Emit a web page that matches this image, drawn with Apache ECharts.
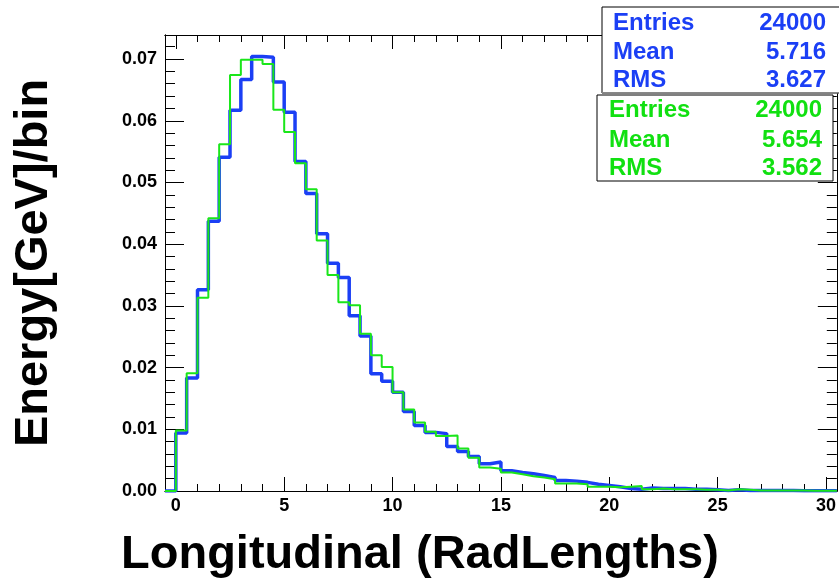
<html>
  <head>
    <meta charset="utf-8" />
    <title>Longitudinal profile</title>
    <script src="https://cdn.jsdelivr.net/npm/echarts@6/dist/echarts.min.js"></script>
  </head>
  <body style="margin:0">
    <div id="main" style="width:839px;height:584px;"></div>
    <script type="text/javascript">
      // histogram: bins of 0.5 RadLengths starting at 0
      var binStart = 0;
      var binWidth = 0.5;
      var blueValues = [
        0.0094, 0.0183, 0.0326, 0.0437, 0.0541, 0.0617, 0.0667, 0.0704, 0.0703, 0.0663,
        0.0614, 0.0534, 0.0482, 0.0417, 0.0369, 0.0346, 0.0284, 0.0251, 0.0190, 0.0178,
        0.0160, 0.0129, 0.0106, 0.0095, 0.0093, 0.0072, 0.0064, 0.0056, 0.0044, 0.0047,
        0.0033, 0.0030, 0.0028, 0.0025, 0.0022, 0.0017, 0.0016, 0.0014, 0.0011, 0.0009,
        0.0007, 0.0004, 0.0003, 0.0005, 0.0004, 0.0004, 0.0004, 0.0003, 0.0003, 0.0002,
        0.0001, 0.0002, 0.0001, 0.0001, 0.0001, 0.0001, 0.0001, 0.00005, 0.00005, 0.00005,
        0.00005
      ];
      var greenValues = [
        0.0098, 0.0191, 0.0313, 0.0442, 0.0562, 0.0674, 0.0699, 0.0699, 0.0692, 0.0618,
        0.0582, 0.0531, 0.0489, 0.0406, 0.0350, 0.0306, 0.0301, 0.0255, 0.0220, 0.0201,
        0.0160, 0.0132, 0.0111, 0.0096, 0.0089, 0.0090, 0.0069, 0.0054, 0.0038, 0.0036,
        0.0030, 0.0027, 0.0024, 0.0022, 0.0019, 0.0012, 0.0012, 0.0011, 0.0007, 0.0007,
        0.0006, 0.0007, 0.0008, 0.0003, 0.0004, 0.0003, 0.0003, 0.0003, 0.0002, 0.0002,
        0.0001, 0.0003, 0.0002, 0.0001, 0.0001, 0.0001, 0.0001, 0.0001, 0.00005, 0.00005,
        0.00005
      ];
      var xMajor = [0, 5, 10, 15, 20, 25, 30];
      var yMajor = [0, 0.01, 0.02, 0.03, 0.04, 0.05, 0.06, 0.07];
      var blueStats = [['Entries', '24000'], ['Mean', '5.716'], ['RMS', '3.627']];
      var greenStats = [['Entries', '24000'], ['Mean', '5.654'], ['RMS', '3.562']];

      var xMin = -0.5, xMax = 30.5, yMin = 0, yMax = 0.0739;
      var blue = '#1b3ff5', green = '#1ae61a';
      var fontFam = '"Liberation Sans", Arial, sans-serif';

      // minor ticks: every 1 on x, every 0.002 on y
      var xMinor = [];
      for (var i = 1; i < 30; i++) { if (i % 5 !== 0) xMinor.push(i); }
      var yMinor = [];
      for (var j = 1; j <= 36; j++) { if (j % 5 !== 0) yMinor.push(+(j * 0.002).toFixed(3)); }

      function stepPoints(values) {
        var pts = [[xMin, 0], [binStart, 0]];
        values.forEach(function (v, k) {
          var lo = binStart + k * binWidth;
          pts.push([lo, v], [lo + binWidth, v]);
        });
        return pts;
      }

      function xAx(pos, ticks, len, labels) {
        return {
          type: 'value', position: pos, min: xMin, max: xMax,
          axisLine: { show: true, onZero: false, lineStyle: { color: '#000', width: 1 } },
          axisTick: { show: true, inside: true, length: len, customValues: ticks, lineStyle: { color: '#000' } },
          axisLabel: labels ? {
            show: true, customValues: ticks, margin: 6, color: '#000',
            fontSize: 18, fontWeight: 'bold', fontFamily: fontFam
          } : { show: false },
          splitLine: { show: false }
        };
      }
      function yAx(pos, ticks, len, labels) {
        return {
          type: 'value', position: pos, min: yMin, max: yMax,
          axisLine: { show: true, onZero: false, lineStyle: { color: '#000', width: 1 } },
          axisTick: { show: true, inside: true, length: len, customValues: ticks, lineStyle: { color: '#000' } },
          axisLabel: labels ? {
            show: true, customValues: ticks, margin: 8, color: '#000',
            fontSize: 18, fontWeight: 'bold', fontFamily: fontFam,
            formatter: function (v) { return v.toFixed(2); }
          } : { show: false },
          splitLine: { show: false }
        };
      }

      var graphics = [
        { type: 'rect', z: 100, shape: { x: 602, y: 7, width: 250, height: 86 },
          style: { fill: '#fff', stroke: '#000', lineWidth: 1 } },
        { type: 'rect', z: 100, shape: { x: 602, y: 92, width: 250, height: 1.5 },
          style: { fill: '#888' } },
        { type: 'rect', z: 100, shape: { x: 597, y: 95, width: 236, height: 86 },
          style: { fill: '#fff', stroke: '#000', lineWidth: 1 } },
        { type: 'text', z: 100, x: 121, y: 555,
          style: { text: 'Longitudinal (RadLengths)', font: 'bold 47px ' + fontFam, fill: '#000',
                   align: 'left', verticalAlign: 'middle' } },
        { type: 'text', z: 100, x: 34, y: 263, rotation: Math.PI / 2,
          style: { text: 'Energy[GeV]/bin', font: 'bold 47px ' + fontFam, fill: '#000',
                   align: 'center', verticalAlign: 'middle' } }
      ];
      function addStats(rows, left, right, ys, color) {
        rows.forEach(function (r, k) {
          graphics.push({ type: 'text', z: 101, x: left, y: ys[k],
            style: { text: r[0], font: 'bold 24px ' + fontFam, fill: color, align: 'left', verticalAlign: 'middle' } });
          graphics.push({ type: 'text', z: 101, x: right, y: ys[k],
            style: { text: r[1], font: 'bold 24px ' + fontFam, fill: color, align: 'right', verticalAlign: 'middle' } });
        });
      }
      addStats(blueStats, 613, 826, [23, 52, 80], blue);
      addStats(greenStats, 609, 822, [110, 140, 168], '#11e011');

      var myChart = echarts.init(document.getElementById('main'));
      var option = {
        animation: false,
        backgroundColor: '#fff',
        grid: { left: 165, right: -1, top: 35, bottom: 93 },
        xAxis: [
          xAx('bottom', xMajor, 14, true),
          xAx('bottom', xMinor, 7, false),
          xAx('top', xMajor, 14, false),
          xAx('top', xMinor, 7, false)
        ],
        yAxis: [
          yAx('left', yMajor, 19, true),
          yAx('left', yMinor, 10, false),
          yAx('right', yMajor, 19, false),
          yAx('right', yMinor, 10, false)
        ],
        series: [
          { type: 'line', data: stepPoints(blueValues), symbol: 'none',
            lineStyle: { color: blue, width: 3.5 }, xAxisIndex: 0, yAxisIndex: 0 },
          { type: 'line', data: stepPoints(greenValues), symbol: 'none',
            lineStyle: { color: green, width: 2 }, xAxisIndex: 0, yAxisIndex: 0 }
        ],
        graphic: graphics
      };
      myChart.setOption(option);
    </script>
  </body>
</html>
